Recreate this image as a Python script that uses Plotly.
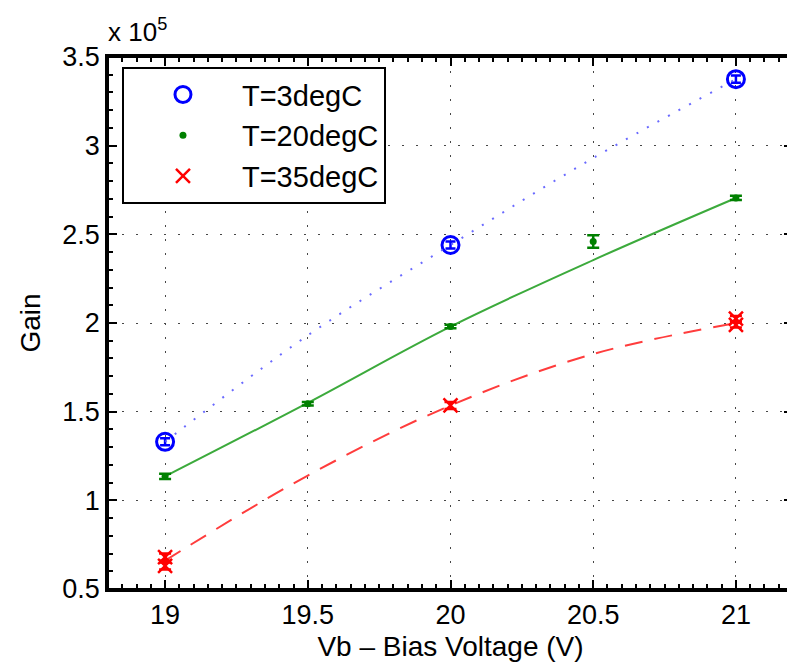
import plotly.graph_objects as go

# ---- data (gain, in units of 10^5) ----
x_3 = [19, 20, 21]
gain_3 = [1.33, 2.44, 3.375]
err_3 = [0.02, 0.02, 0.02]

x_20 = [19, 19.5, 20, 20.5, 21]
gain_20 = [1.135, 1.545, 1.98, 2.46, 2.705]
err_20 = [0.015, 0.01, 0.01, 0.035, 0.012]

x_35 = [19, 19, 20, 21, 21]
gain_35 = [0.68, 0.63, 1.535, 2.025, 1.99]
err_35 = [0.02, 0.02, 0.02, 0.015, 0.015]

fit_x = [19, 19.5, 20, 20.5, 21]
fit_3 = [1.33, 1.93, 2.44, 2.93, 3.375]
fit_20 = [1.135, 1.55, 1.98, 2.355, 2.705]
fit_35 = [0.66, 1.14, 1.535, 1.825, 2.0]

legend_names = ["T=3degC", "T=20degC", "T=35degC"]

X_RANGE = [18.8, 21.2]
Y_RANGE = [0.5, 3.5]

FONT = "Liberation Sans, Arial, Helvetica, sans-serif"
BLUE = "rgb(0,0,255)"
GREEN = "rgb(0,128,0)"
RED = "rgb(255,0,0)"
INK = "rgb(0,0,0)"

fig = go.Figure()

# fit lines (blue one lives on the overlay axes that carry the dotted grid)
fig.add_trace(go.Scatter(x=fit_x, y=fit_3, mode="lines", showlegend=False, xaxis="x2", yaxis="y2",
                         line=dict(color="rgba(90,90,255,0.9)", width=2, dash="2px,10px", shape="spline"),
                         hoverinfo="skip"))
fig.add_trace(go.Scatter(x=fit_x, y=fit_20, mode="lines", showlegend=False,
                         line=dict(color="rgb(60,170,60)", width=2, shape="spline"),
                         hoverinfo="skip"))
fig.add_trace(go.Scatter(x=fit_x, y=fit_35, mode="lines", showlegend=False,
                         line=dict(color="rgb(255,60,60)", width=2, dash="18px,12px", shape="spline"),
                         hoverinfo="skip"))

# data points
fig.add_trace(go.Scatter(x=x_3, y=gain_3, mode="markers", name=legend_names[0],
                         marker=dict(symbol="circle-open", size=17, color=BLUE, line=dict(width=3, color=BLUE)),
                         error_y=dict(type="data", array=err_3, color=BLUE, thickness=2.5, width=5)))
fig.add_trace(go.Scatter(x=x_20, y=gain_20, mode="markers", name=legend_names[1],
                         marker=dict(symbol="circle", size=7, color=GREEN),
                         error_y=dict(type="data", array=err_20, color=GREEN, thickness=2.5, width=6)))
fig.add_trace(go.Scatter(x=x_35, y=gain_35, mode="markers", name=legend_names[2],
                         marker=dict(symbol="x-thin-open", size=14, color=RED, line=dict(width=2.5, color=RED)),
                         error_y=dict(type="data", array=err_35, color=RED, thickness=2.5, width=6)))

main_axis = dict(
    showline=True, linecolor=INK, linewidth=2.5, mirror="ticks",
    ticks="inside", ticklen=9, tickwidth=2, tickcolor=INK,
    showgrid=False, zeroline=False, automargin=False,
    tickfont=dict(family=FONT, size=27, color="black"),
)
grid_axis = dict(
    showline=False, ticks="", showticklabels=False, zeroline=False,
    showgrid=True, gridcolor="rgb(70,70,70)", gridwidth=1, griddash="2px,12px",
)

fig.update_layout(
    xaxis=dict(range=X_RANGE, tickmode="linear", tick0=19, dtick=0.5,
               minor=dict(ticks="inside", ticklen=5, tick0=19, dtick=0.05, tickcolor=INK, tickwidth=1.5, showgrid=False),
               title=dict(text="Vb \u2013 Bias Voltage (V)", standoff=8,
                          font=dict(family=FONT, size=28, color="black")),
               **main_axis),
    yaxis=dict(range=Y_RANGE, tickmode="linear", tick0=0.5, dtick=0.5,
               minor=dict(ticks="inside", ticklen=5, tick0=0.5, dtick=0.1, tickcolor=INK, tickwidth=1.5, showgrid=False),
               title=dict(text="Gain", standoff=14,
                          font=dict(family=FONT, size=28, color="black")),
               **main_axis),
    xaxis2=dict(range=X_RANGE, overlaying="x", anchor="y2", tickmode="linear", tick0=19, dtick=0.5, **grid_axis),
    yaxis2=dict(range=Y_RANGE, overlaying="y", anchor="x2", tickmode="linear", tick0=0.5, dtick=0.5, **grid_axis),
)

# plot frame
fig.add_shape(type="rect", xref="paper", yref="paper", x0=0, y0=0, x1=1, y1=1,
              line=dict(color=INK, width=2), layer="above")

fig.update_layout(
    width=787, height=660,
    margin=dict(l=100, r=2, t=49, b=79, autoexpand=False),
    paper_bgcolor="white", plot_bgcolor="white",
    font=dict(family=FONT, size=27, color="black"),
    title=dict(text="x 10<sup>5</sup>", xref="paper", x=0.0, xanchor="left",
               yref="container", y=0.964, yanchor="middle",
               font=dict(family=FONT, size=26, color="black")),
    showlegend=True,
    legend=dict(x=0.0204, y=0.981, xanchor="left", yanchor="top",
                bgcolor="white", bordercolor="black", borderwidth=2,
                font=dict(family=FONT, size=29, color="black"),
                itemwidth=108, tracegroupgap=0),
)

fig.write_html("out.html")
